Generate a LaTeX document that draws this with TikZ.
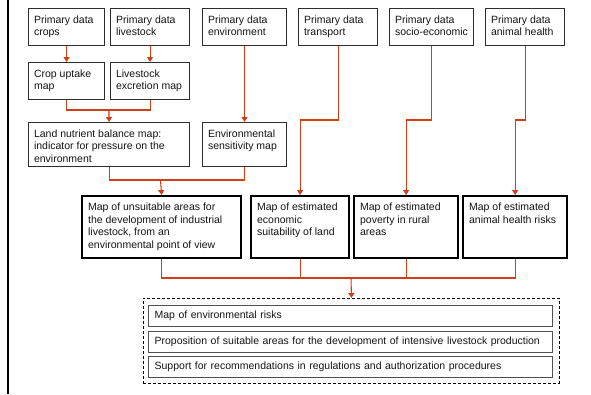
\documentclass[tikz,border=0pt]{standalone}
\usepackage{fontspec}
\setmainfont{Liberation Sans}
\usetikzlibrary{arrows.meta}
\definecolor{flow}{RGB}{208,62,22}
\definecolor{frame}{RGB}{45,45,45}
\definecolor{rowframe}{RGB}{80,80,80}

% box with top-aligned text: name, style, x, y, width, height, text
\newcommand\tbox[7]{%
  \node[#2, anchor=north west] (#1) at (#3,#4)
    {\parbox[t][\dimexpr#6pt-12pt\relax][t]{\dimexpr#5pt-12pt\relax}{\raggedright\strut#7}};}

\begin{document}
\begin{tikzpicture}[x=1pt, y=-1pt,
  txt/.style={font=\fontsize{10.5}{12.5}\selectfont, text=black!92},
  thinbox/.style={txt, draw=frame, line width=1.1pt, inner xsep=5.5pt, inner ysep=6pt, fill=white},
  thickbox/.style={txt, draw=black, line width=2.2pt, inner xsep=6pt, inner ysep=6pt, fill=white},
  rowbox/.style={txt, draw=rowframe, line width=1.3pt, anchor=north west, inner xsep=6pt,
    minimum height=21pt, text width=392pt, align=left},
  groupbox/.style={draw=black, line width=0.9pt, dash pattern=on 3pt off 2pt, anchor=north west},
  link/.style={draw=flow, line width=1.1pt},
  arrow/.style={link, -{Triangle[width=6pt,length=5pt]}}]

\path[use as bounding box] (0,0) rectangle (591,394);

% margin rule on the left
\draw[line width=2pt] (7.5,0) -- (7.5,394);

% primary data
\tbox{pc}{thinbox}{28}{8}{77}{37}{Primary data\\crops}
\tbox{pl}{thinbox}{110}{8}{80}{37}{Primary data\\livestock}
\tbox{pe}{thinbox}{202}{8}{85}{37}{Primary data\\environment}
\tbox{pt}{thinbox}{298}{8}{80}{37}{Primary data\\transport}
\tbox{ps}{thinbox}{389}{8}{85}{37}{Primary data\\socio-economic}
\tbox{pa}{thinbox}{485}{8}{80}{37}{Primary data\\animal health}

% intermediate maps
\tbox{cu}{thinbox}{28}{62}{77}{37}{Crop uptake\\map}
\tbox{lx}{thinbox}{110}{62}{80}{37}{Livestock\\excretion map}
\tbox{ln}{thinbox}{28}{122}{162}{44}{Land nutrient balance map:\\indicator for pressure on the\\environment}
\tbox{es}{thinbox}{202}{122}{85}{44}{Environmental\\sensitivity map}

% synthesis maps
\tbox{un}{thickbox}{81}{195}{159}{62}{Map of unsuitable areas for\\the development of industrial\\livestock, from an\\environmental point of view}
\tbox{ec}{thickbox}{250}{195}{98}{62}{Map of estimated\\economic\\suitability of land}
\tbox{pv}{thickbox}{353}{195}{104}{62}{Map of estimated\\poverty in rural\\areas}
\tbox{ah}{thickbox}{462}{195}{104}{62}{Map of estimated\\animal health risks}

% results
\node[groupbox, minimum width=416pt, minimum height=85pt] (res) at (143,298) {};
\node[rowbox] (r1) at (148,305) {\strut Map of environmental risks};
\node[rowbox] (r2) at (148,330.5) {\strut Proposition of suitable areas for the development of intensive livestock production};
\node[rowbox] (r3) at (148,356) {\strut Support for recommendations in regulations and authorization procedures};

% junction points
\coordinate (j1) at (109,110);
\coordinate (j2) at (160.5,180);
\coordinate (j3) at (351,278);

% connectors
\draw[arrow] (pc) -- (cu);
\draw[arrow] (pl) -- (lx);
\draw[link] (cu.south) |- (j1);
\draw[link] (lx.south) |- (j1);
\draw[arrow] (j1) -- (ln.north);
\draw[arrow] (pe) -- (es);
\draw[link] (ln.south) |- (j2);
\draw[link] (es.south) |- (j2);
\draw[arrow] (j2) -- (un.north);
\draw[arrow] (pt.south) -- (pt.south |- 0,120) -| (ec.north);
\draw[arrow] (ps.south) -- (ps.south |- 0,120) -| (pv.north);
\draw[arrow] (pa.south) -- (pa.south |- 0,120) -| (ah.north);
\draw[link] (un.south) |- (j3);
\draw[link] (ec.south) |- (j3);
\draw[link] (pv.south) |- (j3);
\draw[link] (ah.south) |- (j3);
\draw[arrow] (j3) -- (res.north);
\end{tikzpicture}
\end{document}
